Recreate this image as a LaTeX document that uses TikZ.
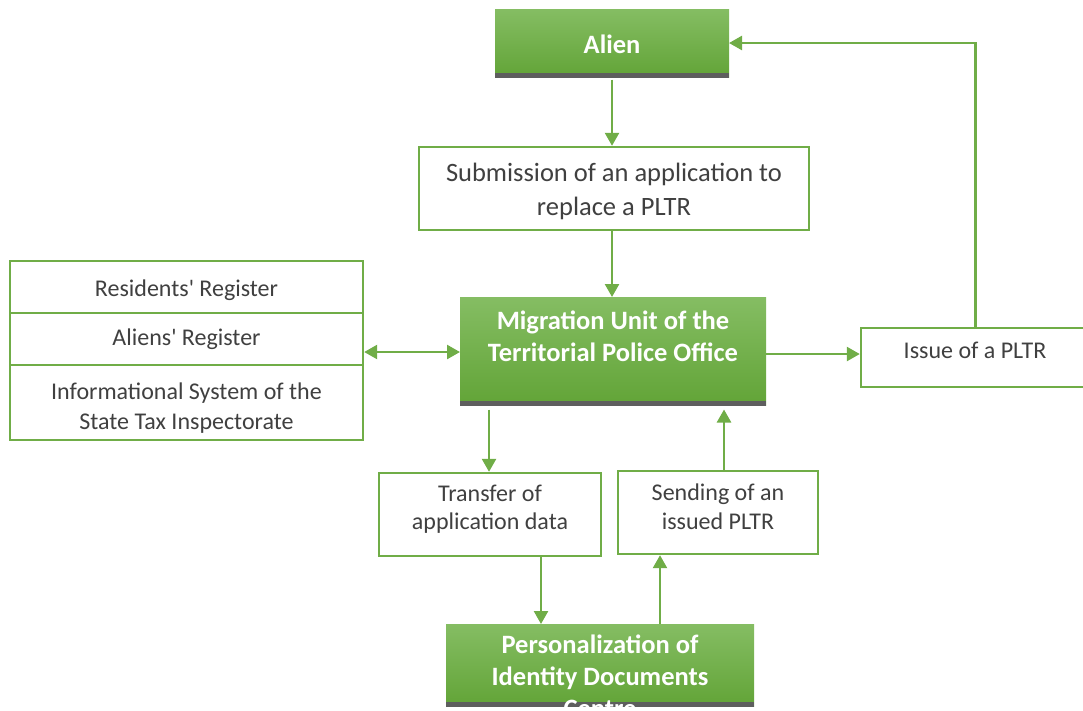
\documentclass[tikz,border=0pt]{standalone}
\usepackage{fontspec}
\setmainfont{Carlito}
\usetikzlibrary{arrows.meta}
\definecolor{gline}{HTML}{70AD47}
\definecolor{gtop}{HTML}{85BD63}
\definecolor{gbot}{HTML}{62A437}
\definecolor{gbar}{HTML}{5E5E5E}
\definecolor{txt}{HTML}{404040}
\tikzset{
  wbox/.style={draw=gline, line width=2.5pt, fill=white, inner sep=0pt, outer sep=1.2pt},
  gbox/.style={top color=gtop, bottom color=gbot, draw=none, inner sep=0pt, outer sep=0pt},
  bar/.style={draw=gbar, line width=5pt},
  lbl/.style={text=txt, align=center, inner sep=0pt, font=\fontsize{24}{29}\selectfont},
  blbl/.style={text=white, align=center, inner sep=0pt, font=\fontsize{26.5}{32}\selectfont\bfseries},
  arr/.style={draw=gline, line width=2.5pt, -{Triangle[length=13pt,width=14pt]}},
  darr/.style={draw=gline, line width=2.5pt, {Triangle[length=13pt,width=14pt]}-{Triangle[length=13pt,width=14pt]}},
}
\begin{document}
\begin{tikzpicture}[x=1pt,y=-1pt]
\useasboundingbox (0,0) rectangle (1083,710);
\clip (0,0) rectangle (1083,710);
% boxes
\node[gbox, minimum width=234pt, minimum height=68pt] (alien) at (612,43) {};
\draw[bar] (alien.south west) ++(0,-2) -- ++(234,0);
\node[blbl] (alienT) at (612,44) {Alien};

\node[wbox, minimum width=390pt, minimum height=83pt] (sub) at (614,188.5) {};
\node[lbl, font=\fontsize{26.5}{34}\selectfont] (subT) at (614,191) {Submission of an application to\\replace a PLTR};

\node[wbox, minimum width=353pt, minimum height=179pt] (reg) at (186.5,350.5) {};
\draw[gline, line width=2.5pt] (10,313) -- (363,313) (10,365) -- (363,365);
\node[lbl] (r1) at (186.5,290) {Residents\textquotesingle{} Register};
\node[lbl] (r2) at (186.5,339) {Aliens\textquotesingle{} Register};
\node[lbl, font=\fontsize{24}{30}\selectfont] (r3) at (186.5,408) {Informational System of the\\State Tax Inspectorate};

\node[gbox, minimum width=306pt, minimum height=108pt] (mig) at (613,351) {};
\draw[bar] (mig.south west) ++(0,-2) -- ++(306,0);
\node[blbl] (migT) at (613,336) {Migration Unit of the\\Territorial Police Office};

\node[wbox, minimum width=229pt, minimum height=59pt] (iss) at (975.5,357.5) {};
\node[lbl] (issT) at (975,350) {Issue of a PLTR};

\node[wbox, minimum width=222pt, minimum height=83pt] (tr) at (490,514.5) {};
\node[lbl, font=\fontsize{24}{28}\selectfont] (trT) at (490,509) {Transfer of\\application data};

\node[wbox, minimum width=200pt, minimum height=83pt] (se) at (718,512.5) {};
\node[lbl, font=\fontsize{24}{29}\selectfont] (seT) at (718,507) {Sending of an\\issued PLTR};

\node[gbox, minimum width=308pt, minimum height=82pt] (pc) at (600,665) {};
\draw[bar] (pc.south west) ++(0,-2) -- ++(308,0);
\node[blbl, anchor=north] (pcT) at (600,635) {Personalization of\\Identity Documents\\Centre};

% helper coordinates
\coordinate (x489) at (489,0);
\coordinate (x541) at (541,0);
\coordinate (x612) at (612,0);
\coordinate (x660) at (660,0);
\coordinate (x724) at (724,0);
\coordinate (y354) at (0,354);
\coordinate (y352) at (0,352);

% connectors
\draw[arr] (alien.south) ++(0,2.5) -- (sub.north -| x612);
\draw[arr] (sub.south -| x612) -- (mig.north -| x612);
\draw[darr] (reg.east |- y352) -- (mig.west |- y352);
\draw[arr] (mig.east |- y354) -- (iss.west |- y354);
\draw[arr] (iss.north) |- (alien.east);
\draw[arr] (mig.south -| x489) ++(0,4.5) -- (tr.north -| x489);
\draw[arr] (tr.south -| x541) -- (pc.north -| x541);
\draw[arr] (pc.north -| x660) -- (se.south -| x660);
\draw[arr] (se.north -| x724) -- ([yshift=-4.5pt]mig.south -| x724);
\end{tikzpicture}
\end{document}
